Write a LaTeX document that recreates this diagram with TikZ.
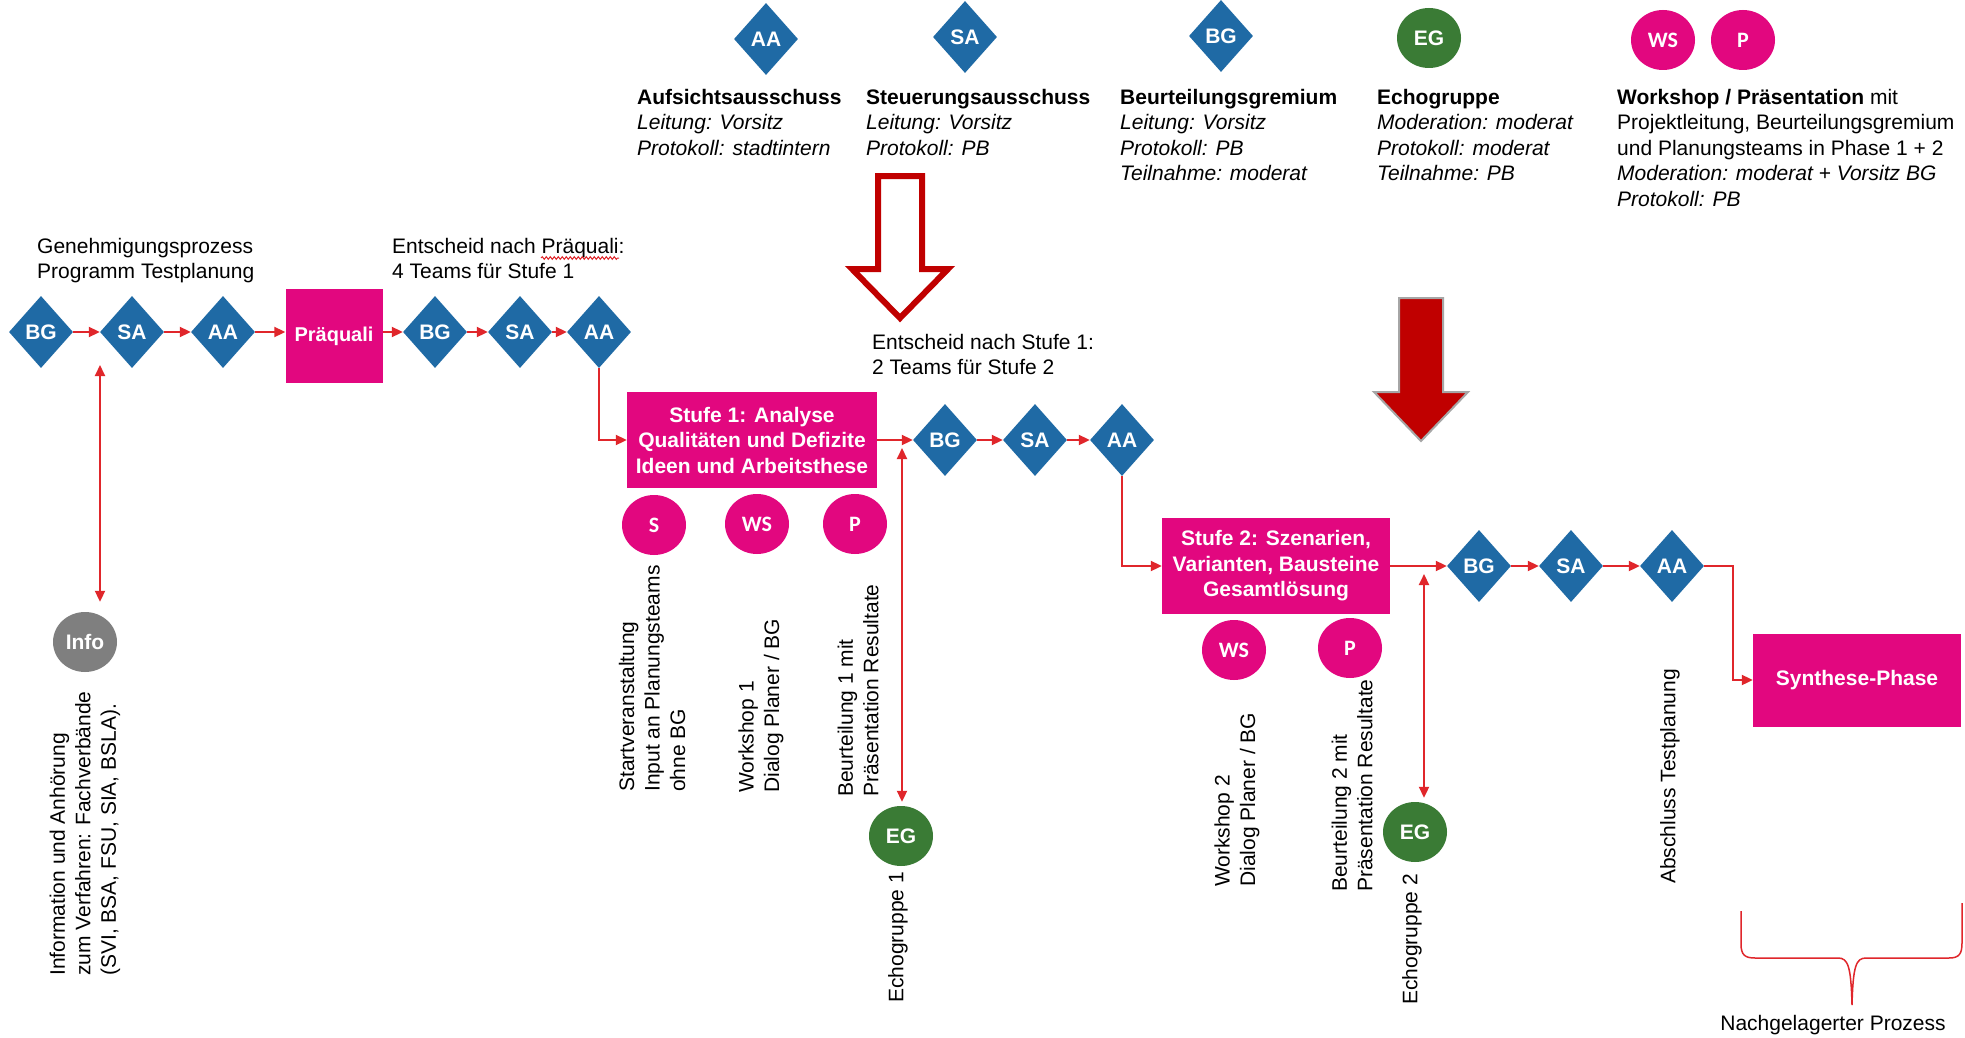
\documentclass[tikz,border=0pt]{standalone}
\usepackage{fontspec}
\setmainfont{Liberation Sans}
\newfontfamily\carl{Carlito}
\usetikzlibrary{arrows.meta,shapes.geometric,decorations.pathmorphing}
\definecolor{dblue}{HTML}{1F6AA5}
\definecolor{mag}{HTML}{E2077F}
\definecolor{egreen}{HTML}{3A7B35}
\definecolor{igrey}{HTML}{7F7F7F}
\definecolor{lred}{HTML}{E0262B}
\definecolor{dred}{HTML}{C00000}
\newcommand{\fs}{\fontsize{21}{25.5}\selectfont}
\tikzset{
  dia/.style={diamond, fill=dblue, minimum width=64pt, minimum height=72pt, inner sep=0pt, text=white, font=\bfseries\fontsize{21}{21}\selectfont},
  pblob/.style={ellipse, fill=mag, minimum width=64pt, minimum height=60pt, inner sep=0pt, text=white, font=\carl\bfseries\fontsize{22}{22}\selectfont},
  gblob/.style={ellipse, fill=egreen, minimum width=64pt, minimum height=60pt, inner sep=0pt, text=white, font=\bfseries\fontsize{21}{21}\selectfont},
  iblob/.style={ellipse, fill=igrey, minimum width=64pt, minimum height=60pt, inner sep=0pt, text=white, font=\bfseries\fontsize{21}{21}\selectfont},
  box/.style={rectangle, fill=mag, text=white, inner sep=0pt, align=center, font=\bfseries\fontsize{21}{25.5}\selectfont},
  txt/.style={anchor=north west, inner sep=0pt, align=left, font=\fs},
  rot/.style={rotate=90, anchor=west, inner sep=0pt, align=left, font=\fs},
  arr/.style={draw=lred, line width=2pt, -{Triangle[length=11pt,width=10pt]}},
  darr/.style={draw=lred, line width=2pt, {Triangle[length=11pt,width=10pt]}-{Triangle[length=11pt,width=10pt]}},
}
\begin{document}
\begin{tikzpicture}[x=1pt,y=-1pt]
\fill[white] (0,0) rectangle (1965,1038);
\path[use as bounding box] (0,0) rectangle (1965,1038);

% legend
\node[dia] (lAA) at (766,39) {AA};
\node[dia] (lSA) at (965,37) {SA};
\node[dia] (lBG) at (1221,36) {BG};
\node[gblob] (lEG) at (1429,38) {EG};
\node[pblob] (lWS) at (1663,40) {WS};
\node[pblob] (lP) at (1743,40) {P};

\node[txt] (tAA) at (637,89) {\textbf{Aufsichtsausschuss}\\\textit{Leitung: Vorsitz}\\\textit{Protokoll: stadtintern}};
\node[txt] (tSA) at (866,89) {\textbf{Steuerungsausschuss}\\\textit{Leitung: Vorsitz}\\\textit{Protokoll: PB}};
\node[txt] (tBG) at (1120,89) {\textbf{Beurteilungsgremium}\\\textit{Leitung: Vorsitz}\\\textit{Protokoll: PB}\\\textit{Teilnahme: moderat}};
\node[txt] (tEG) at (1377,89) {\textbf{Echogruppe}\\\textit{Moderation: moderat}\\\textit{Protokoll: moderat}\\\textit{Teilnahme: PB}};
\node[txt] (tWS) at (1617,89) {\textbf{Workshop / Präsentation} mit\\Projektleitung, Beurteilungsgremium\\und Planungsteams in Phase 1 + 2\\\textit{Moderation: moderat + Vorsitz BG}\\\textit{Protokoll: PB}};

% big arrows
\draw[dred, line width=6pt, fill=white, line join=miter] (878,176) -- (922,176) -- (922,269) -- (948,269) -- (900,318) -- (852,269) -- (878,269) -- cycle;
\draw[draw=black!35, line width=2pt, fill=dred] (1399,298) -- (1443,298) -- (1443,392) -- (1468,392) -- (1421,441) -- (1374,392) -- (1399,392) -- cycle;

% labels
\node[txt] (tGen) at (37,238) {Genehmigungsprozess\\Programm Testplanung};
\node[txt] (tEnt1) at (392,238) {Entscheid nach Präquali:\\4 Teams für Stufe 1};
\draw[lred, line width=1pt, decorate, decoration={snake, amplitude=1.3pt, segment length=4pt}] (541,258) -- (619,258);
\node[txt] (tEnt2) at (872,334) {Entscheid nach Stufe 1:\\2 Teams für Stufe 2};

% row 1
\node[dia] (bg1) at (41,332) {BG};
\node[dia] (sa1) at (132,332) {SA};
\node[dia] (aa1) at (223,332) {AA};
\node[box, minimum width=97pt, minimum height=94pt, font=\bfseries\fontsize{20}{20}\selectfont] (pq) at (334,336) {Präquali};
\node[dia] (bg2) at (435,332) {BG};
\node[dia] (sa2) at (520,332) {SA};
\node[dia] (aa2) at (599,332) {AA};

% row 2
\node[box, minimum width=250pt, minimum height=96pt] (s1) at (752,440) {Stufe 1: Analyse\\Qualitäten und Defizite\\Ideen und Arbeitsthese};
\node[dia] (bg3) at (945,440) {BG};
\node[dia] (sa3) at (1035,440) {SA};
\node[dia] (aa3) at (1122,440) {AA};

% row 3
\node[box, minimum width=228pt, minimum height=96pt] (s2) at (1276,566) {Stufe 2: Szenarien,\\Varianten, Bausteine\\Gesamtlösung};
\node[dia] (bg4) at (1479,566) {BG};
\node[dia] (sa4) at (1571,566) {SA};
\node[dia] (aa4) at (1672,566) {AA};
\node[box, minimum width=208pt, minimum height=93pt] (syn) at (1857,680) {Synthese-Phase};

% circles
\node[iblob] (info) at (85,642) {Info};
\node[pblob] (c1s) at (654,525) {S};
\node[pblob] (c1w) at (757,524) {WS};
\node[pblob] (c1p) at (855,524) {P};
\node[gblob] (eg1) at (901,836) {EG};
\node[pblob] (c2w) at (1234,650) {WS};
\node[pblob] (c2p) at (1350,648) {P};
\node[gblob] (eg2) at (1415,832) {EG};

% rotated texts
\node[rot] (tInfo) at (85,976) {Information und Anhörung\\zum Verfahren: Fachverbände\\(SVI, BSA, FSU, SIA, BSLA).};
\node[rot] (tStart) at (652,792) {Startveranstaltung\\Input an Planungsteams\\ohne BG};
\node[rot] (tWS1) at (761,793) {Workshop 1\\Dialog Planer / BG};
\node[rot] (tB1) at (858,797) {Beurteilung 1 mit\\Präsentation Resultate};
\node[rot] (tEG1) at (898,1003) {Echogruppe 1};
\node[rot] (tWS2) at (1237,887) {Workshop 2\\Dialog Planer / BG};
\node[rot] (tB2) at (1352,892) {Beurteilung 2 mit\\Präsentation Resultate};
\node[rot] (tEG2) at (1412,1005) {Echogruppe 2};
\node[rot] (tAbs) at (1670,884) {Abschluss Testplanung};

% connectors
\draw[arr] (bg1) -- (sa1);
\draw[arr] (sa1) -- (aa1);
\draw[arr] (aa1.east) -- (aa1.east -| pq.west);
\draw[arr] (pq.east |- bg2.west) -- (bg2.west);
\draw[arr] (bg2) -- (sa2);
\draw[arr] (sa2) -- (aa2);
\draw[arr] (aa2.south) |- (s1.west);
\draw[arr] (s1.east) -- (bg3.west);
\draw[arr] (bg3) -- (sa3);
\draw[arr] (sa3) -- (aa3);
\draw[arr] (aa3.south) |- (s2.west);
\draw[arr] (s2.east) -- (bg4.west);
\draw[arr] (bg4) -- (sa4);
\draw[arr] (sa4) -- (aa4);
\draw[arr] (aa4.east) -- ++(29,0) |- (syn.west);

\coordinate (j1) at (100,365);
\draw[darr, shorten >=10pt] (j1) -- (j1 |- info.north);
\coordinate (j2) at (902,448);
\draw[darr, shorten >=4pt] (j2) -- (j2 |- eg1.north);
\coordinate (j3) at (1424,574);
\draw[darr, shorten >=4pt] (j3) -- (j3 |- eg2.north);

% brace
\draw[lred, line width=1.5pt] (1741,911) -- (1741,944) .. controls (1741,955) and (1745,958) .. (1755,958) -- (1838,958) .. controls (1848,958) and (1851,966) .. (1852,1005) .. controls (1853,966) and (1856,958) .. (1866,958) -- (1949,958) .. controls (1959,958) and (1962,954) .. (1962,943) -- (1962,903);
\node[font=\fs, inner sep=0pt] (tNach) at (1833,1025) {Nachgelagerter Prozess};
\end{tikzpicture}
\end{document}
